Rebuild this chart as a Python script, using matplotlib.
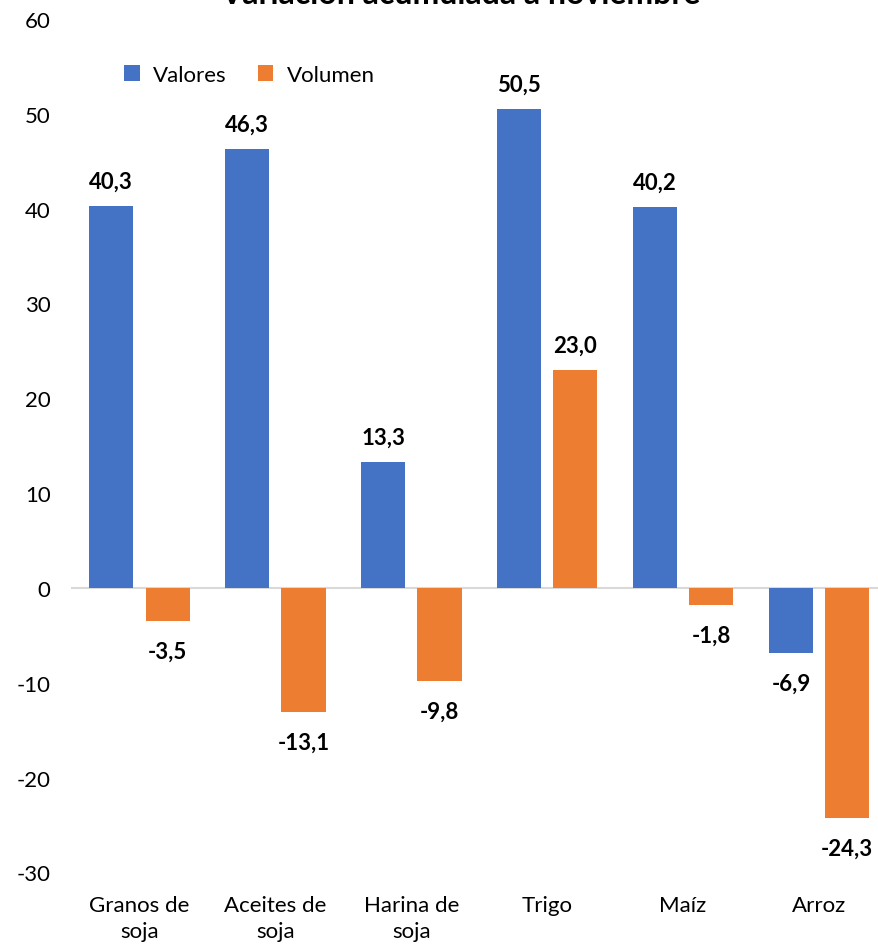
import matplotlib
matplotlib.use("Agg")
import matplotlib.pyplot as plt
import numpy as np

categories = ["Granos de\nsoja", "Aceites de\nsoja", "Harina de\nsoja", "Trigo", "Maíz", "Arroz"]
valores = [40.3, 46.3, 13.3, 50.5, 40.2, -6.9]
volumen = [-3.5, -13.1, -9.8, 23.0, -1.8, -24.3]
y_ticks = [-30, -20, -10, 0, 10, 20, 30, 40, 50, 60]

BLUE = "#4472C4"
ORANGE = "#ED7D31"

plt.rcParams["font.family"] = ["Lato", "DejaVu Sans"]

W, H = 879, 945
fig = plt.figure(figsize=(W / 100, H / 100), dpi=100)
ax = fig.add_axes([71.5 / W, 1 - 873.5 / H, 815.5 / W, (873.5 - 20) / H])

x = np.arange(len(categories))
bw = 0.325
off = 0.207
b1 = ax.bar(x - off, valores, bw, color=BLUE, label="Valores", zorder=2)
b2 = ax.bar(x + off, volumen, bw, color=ORANGE, label="Volumen", zorder=2)

def fmt(v):
    return f"{v:.1f}".replace(".", ",")

for bars, vals in ((b1, valores), (b2, volumen)):
    for rect, v in zip(bars, vals):
        cx = rect.get_x() + rect.get_width() / 2
        if v >= 0:
            ax.annotate(fmt(v), (cx, v), xytext=(0, 10), textcoords="offset points",
                        ha="center", va="bottom", fontsize=16, fontweight="bold")
        else:
            ax.annotate(fmt(v), (cx, v), xytext=(0, -14), textcoords="offset points",
                        ha="center", va="top", fontsize=16, fontweight="bold")

ax.set_xlim(-0.5, len(categories) - 0.5)
ax.set_ylim(-30, 60)
ax.set_yticks(y_ticks)
ax.set_yticklabels([str(t) for t in y_ticks])
ax.set_xticks(x)
ax.set_xticklabels(categories, fontsize=16, linespacing=1.4)
ax.tick_params(axis="y", length=0, pad=15, labelsize=16)
ax.tick_params(axis="x", length=0, pad=16)
for s in ax.spines.values():
    s.set_visible(False)
ax.axhline(0, color="#D9D9D9", lw=1.5, zorder=1)

ax.legend(loc="upper left", bbox_to_anchor=(0.04, 0.97), ncol=2, frameon=False,
          fontsize=16, handlelength=0.7, handleheight=0.7, handletextpad=0.6,
          columnspacing=1.4)

fig.text(460 / W, 1 - 4 / H, "Variación acumulada a noviembre", ha="center",
         va="baseline", fontsize=23, fontweight="bold")

fig.savefig("out.png", dpi=100)
